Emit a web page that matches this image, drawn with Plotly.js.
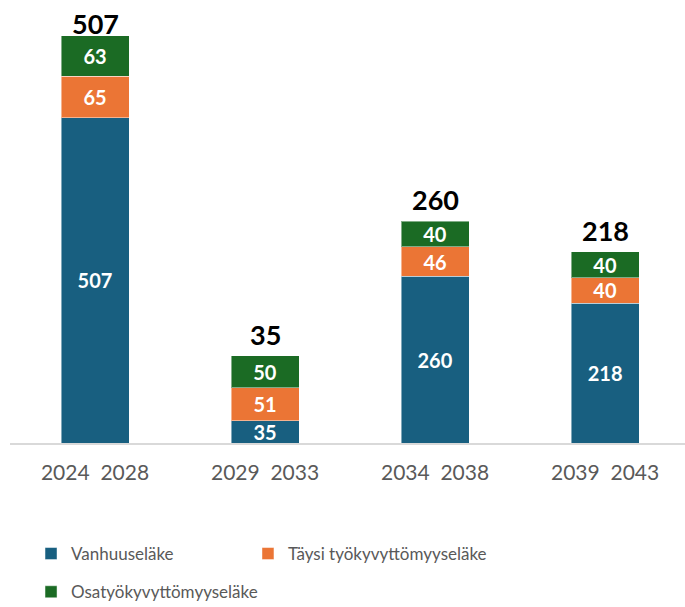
<!DOCTYPE html>
<html><head><meta charset="utf-8">
<script src="https://cdn.plot.ly/plotly-3.0.1.min.js"></script>
<style>body{margin:0;background:#fff}</style>
</head><body>
<div id="chart" style="width:685px;height:607px"></div>
<script>
const categories = ["2024\u00a0\u00a02028", "2029\u00a0\u00a02033", "2034\u00a0\u00a02038", "2039\u00a0\u00a02043"];
const vanhuus = [507, 35, 260, 218];
const taysi = [65, 51, 46, 40];
const osa = [63, 50, 40, 40];
const totalLabels = [507, 35, 260, 218];
const seriesNames = ["Vanhuuseläke", "Täysi työkyvyttömyyseläke", "Osatyökyvyttömyyseläke"];
const colors = ["#185F80", "#EB7535", "#1B6B24"];

const FONT = "Lato, 'Open Sans', sans-serif";
function mk(vals, i, legend) {
  return {
    type: "bar", x: categories, y: vals, name: seriesNames[i],
    marker: {color: colors[i], line: {color: "rgba(255,255,255,0.45)", width: 1}},
    text: vals.map(String), textposition: "inside", insidetextanchor: "middle",
    textangle: 0, constraintext: "none", cliponaxis: false,
    textfont: {family: FONT, size: 20, color: "#ffffff", weight: 700},
    hoverinfo: "none", legend: legend
  };
}
const data = [mk(vanhuus, 0, "legend"), mk(taysi, 1, "legend2"), mk(osa, 2, "legend3")];
const YMAX = 691, PLOT_H = 443;
const totals = categories.map((c, i) => vanhuus[i] + taysi[i] + osa[i]);
// label sits a few px above the stack, but is kept inside the chart's top edge
const labelShift = t => {
  const topPx = PLOT_H * (1 - t / YMAX);   // px from top of chart to stack top
  const wanted = 3, reserve = 42;
  return Math.min(wanted, topPx - reserve);
};
const annotations = categories.map((c, i) => ({
  x: c, y: totals[i], xref: "x", yref: "y", yanchor: "bottom", yshift: labelShift(totals[i]),
  text: String(totalLabels[i]), showarrow: false,
  font: {family: FONT, size: 27, color: "#000000", weight: 700}
}));
const legendFont = {family: FONT, size: 17, color: "#595959"};
const lg = (x, y) => ({orientation: "h", xref: "container", yref: "container",
                       x: x, xanchor: "left", y: y, yanchor: "top",
                       font: legendFont, bgcolor: "rgba(0,0,0,0)"});
const layout = {
  width: 685, height: 607,
  margin: {l: 10, r: 0, t: 0, b: 164, autoexpand: false},
  paper_bgcolor: "#ffffff", plot_bgcolor: "#ffffff",
  barmode: "stack", bargap: 0.6,
  showlegend: true,
  xaxis: {showline: true, linecolor: "#d9d9d9", linewidth: 1.5, ticks: "", showgrid: false,
          range: [-0.5, 3.47], ticklabelstandoff: 10, automargin: false,
          tickfont: {family: FONT, size: 21, color: "#595959"}, fixedrange: true},
  yaxis: {visible: false, range: [0, YMAX], showgrid: false, zeroline: false, fixedrange: true},
  legend: lg(0.0453, 0.117),
  legend2: lg(0.362, 0.117),
  legend3: lg(0.0453, 0.054),
  annotations: annotations,
  font: {family: FONT}
};
Plotly.newPlot("chart", data, layout, {displayModeBar: false, staticPlot: true});
</script>
</body></html>
